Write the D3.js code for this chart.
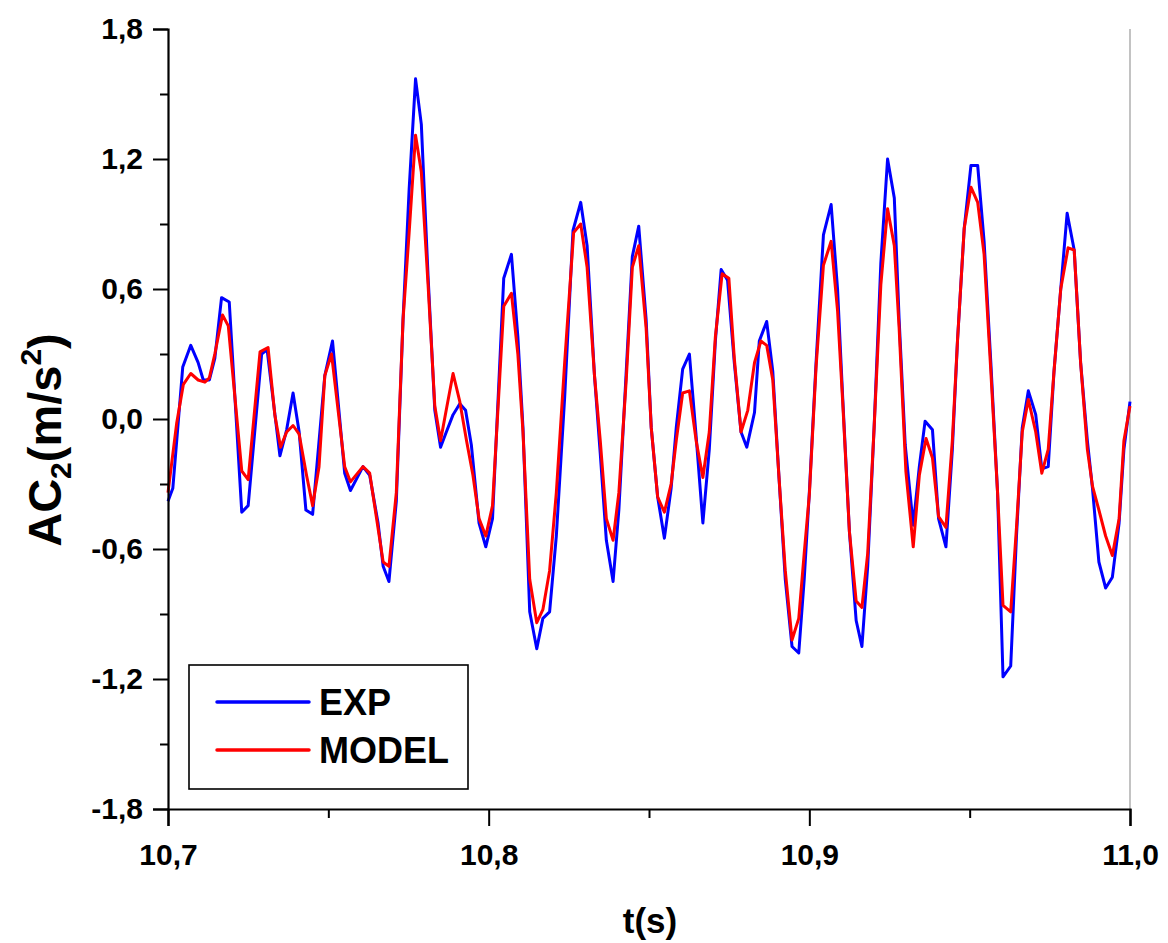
<!DOCTYPE html>
<html>
<head>
<meta charset="utf-8">
<script src="https://cdn.jsdelivr.net/npm/d3@7"></script>
<style>
  html, body { margin: 0; padding: 0; background: #fff; }
  svg { display: block; }
  text { font-family: "Liberation Sans", Arial, sans-serif; font-weight: bold; fill: #000; }
</style>
</head>
<body>
<svg id="chart" width="1168" height="943"></svg>
<script>
// ---------- data ----------
const expT = [10.7000,10.7015,10.7046,10.7071,10.7094,10.7110,10.7129,10.7146,10.7167,10.7191,10.7230,10.7250,10.7292,10.7309,10.7349,10.7370,10.7390,10.7409,10.7430,10.7451,10.7489,10.7513,10.7551,10.7569,10.7608,10.7629,10.7655,10.7671,10.7689,10.7712,10.7733,10.7752,10.7772,10.7790,10.7811,10.7832,10.7850,10.7868,10.7889,10.7910,10.7928,10.7946,10.7970,10.7991,10.8012,10.8047,10.8071,10.8091,10.8107,10.8128,10.8150,10.8169,10.8190,10.8211,10.8237,10.8263,10.8287,10.8307,10.8330,10.8348,10.8367,10.8388,10.8406,10.8429,10.8448,10.8468,10.8491,10.8507,10.8527,10.8548,10.8569,10.8585,10.8605,10.8626,10.8647,10.8668,10.8688,10.8707,10.8725,10.8745,10.8766,10.8787,10.8805,10.8829,10.8844,10.8867,10.8886,10.8905,10.8925,10.8946,10.8967,10.8984,10.9000,10.9021,10.9044,10.9068,10.9088,10.9104,10.9125,10.9146,10.9164,10.9182,10.9202,10.9223,10.9244,10.9265,10.9280,10.9299,10.9324,10.9343,10.9361,10.9384,10.9403,10.9426,10.9446,10.9462,10.9483,10.9504,10.9525,10.9545,10.9566,10.9587,10.9604,10.9628,10.9646,10.9664,10.9683,10.9706,10.9725,10.9745,10.9763,10.9784,10.9804,10.9826,10.9846,10.9867,10.9883,10.9903,10.9924,10.9945,10.9966,10.9981,11.0000];
const expV = [-0.38,-0.32,0.24,0.34,0.26,0.18,0.18,0.28,0.56,0.54,-0.43,-0.40,0.30,0.32,-0.17,-0.05,0.12,-0.06,-0.42,-0.44,0.20,0.36,-0.25,-0.33,-0.22,-0.26,-0.48,-0.68,-0.75,-0.38,0.46,1.06,1.57,1.36,0.66,0.04,-0.13,-0.06,0.02,0.07,0.04,-0.12,-0.48,-0.59,-0.46,0.65,0.76,0.38,-0.04,-0.89,-1.06,-0.92,-0.89,-0.54,0.10,0.87,1.00,0.80,0.20,-0.16,-0.56,-0.75,-0.42,0.22,0.75,0.89,0.46,-0.04,-0.36,-0.55,-0.32,-0.04,0.23,0.30,-0.08,-0.48,-0.14,0.36,0.69,0.64,0.26,-0.06,-0.13,0.03,0.36,0.45,0.22,-0.26,-0.74,-1.05,-1.08,-0.74,-0.34,0.26,0.85,0.99,0.60,0.10,-0.52,-0.93,-1.05,-0.68,-0.04,0.72,1.20,1.02,0.46,-0.12,-0.49,-0.22,-0.01,-0.05,-0.46,-0.59,-0.14,0.36,0.88,1.17,1.17,0.82,0.26,-0.34,-1.19,-1.14,-0.54,-0.04,0.13,0.02,-0.23,-0.22,0.22,0.60,0.95,0.78,0.26,-0.10,-0.32,-0.66,-0.78,-0.73,-0.48,-0.14,0.08];

const modelT = [10.7000,10.7027,10.7048,10.7071,10.7094,10.7115,10.7129,10.7146,10.7170,10.7188,10.7230,10.7250,10.7287,10.7312,10.7333,10.7351,10.7370,10.7390,10.7409,10.7432,10.7451,10.7471,10.7489,10.7510,10.7551,10.7569,10.7608,10.7629,10.7671,10.7689,10.7712,10.7733,10.7752,10.7772,10.7790,10.7811,10.7832,10.7850,10.7870,10.7889,10.7910,10.7931,10.7951,10.7970,10.7991,10.8012,10.8047,10.8071,10.8091,10.8107,10.8128,10.8150,10.8169,10.8190,10.8211,10.8237,10.8265,10.8287,10.8307,10.8330,10.8348,10.8367,10.8388,10.8406,10.8429,10.8448,10.8468,10.8491,10.8507,10.8527,10.8548,10.8569,10.8585,10.8605,10.8626,10.8647,10.8668,10.8688,10.8707,10.8728,10.8749,10.8766,10.8787,10.8808,10.8829,10.8849,10.8867,10.8886,10.8905,10.8925,10.8946,10.8967,10.8984,10.9000,10.9021,10.9044,10.9068,10.9088,10.9104,10.9125,10.9146,10.9164,10.9182,10.9202,10.9223,10.9244,10.9265,10.9280,10.9301,10.9324,10.9343,10.9364,10.9384,10.9403,10.9426,10.9446,10.9462,10.9483,10.9504,10.9525,10.9545,10.9566,10.9587,10.9604,10.9628,10.9646,10.9664,10.9683,10.9706,10.9725,10.9745,10.9763,10.9784,10.9807,10.9826,10.9846,10.9867,10.9883,10.9903,10.9924,10.9945,10.9966,10.9981,11.0000];
const modelV = [-0.34,-0.02,0.16,0.21,0.18,0.17,0.19,0.30,0.48,0.43,-0.24,-0.28,0.31,0.33,0.02,-0.13,-0.06,-0.03,-0.07,-0.26,-0.40,-0.22,0.20,0.30,-0.22,-0.29,-0.22,-0.25,-0.66,-0.68,-0.34,0.46,0.86,1.31,1.14,0.62,0.06,-0.10,0.06,0.21,0.08,-0.10,-0.26,-0.46,-0.54,-0.40,0.52,0.58,0.30,-0.06,-0.74,-0.94,-0.88,-0.70,-0.34,0.26,0.86,0.90,0.70,0.20,-0.10,-0.46,-0.56,-0.34,0.18,0.70,0.80,0.42,-0.04,-0.36,-0.43,-0.30,-0.10,0.12,0.13,-0.10,-0.27,-0.06,0.38,0.67,0.65,0.28,-0.06,0.04,0.26,0.36,0.34,0.18,-0.26,-0.70,-1.02,-0.92,-0.62,-0.35,0.24,0.71,0.82,0.50,0.08,-0.52,-0.84,-0.87,-0.62,-0.04,0.62,0.97,0.80,0.42,-0.24,-0.59,-0.26,-0.09,-0.18,-0.45,-0.50,-0.10,0.36,0.88,1.07,1.00,0.76,0.22,-0.34,-0.86,-0.89,-0.50,-0.06,0.09,-0.06,-0.25,-0.14,0.22,0.60,0.79,0.78,0.26,-0.14,-0.31,-0.42,-0.54,-0.63,-0.46,-0.10,0.06];

const xTicksMajor = [10.7, 10.8, 10.9, 11.0];
const xTicksMinor = [10.75, 10.85, 10.95];
const yTicksMajor = [-1.8, -1.2, -0.6, 0.0, 0.6, 1.2, 1.8];
const yTicksMinor = [-1.5, -0.9, -0.3, 0.3, 0.9, 1.5];
const seriesNames = ["EXP", "MODEL"];
const seriesColors = ["#0000ff", "#ff0000"];

// ---------- layout ----------
const svg = d3.select("#chart");
const L = 168, R = 1130, T = 29, B = 809;

const x = d3.scaleLinear().domain([10.7, 11.0]).range([L, R]);
const y = d3.scaleLinear().domain([-1.8, 1.8]).range([B, T]);
const fmt = v => d3.format(".1f")(v).replace(".", ",").replace("−", "-");

// right frame line (thin grey)
svg.append("line").attr("x1", R).attr("x2", R).attr("y1", T).attr("y2", B)
  .attr("stroke", "#9a9a9a").attr("stroke-width", 1.2);

// curves
const line = d3.line().x(d => x(d[0])).y(d => y(d[1]));
const expData = expT.map((t, i) => [t, expV[i]]);
const modelData = modelT.map((t, i) => [t, modelV[i]]);
const plot = svg.append("g");
plot.append("path").datum(expData).attr("d", line)
  .attr("fill", "none").attr("stroke", seriesColors[0]).attr("stroke-width", 3).attr("stroke-linejoin", "round");
plot.append("path").datum(modelData).attr("d", line)
  .attr("fill", "none").attr("stroke", seriesColors[1]).attr("stroke-width", 3).attr("stroke-linejoin", "round");

// y axis
const yAxis = d3.axisLeft(y).tickValues(yTicksMajor).tickSize(15).tickPadding(10).tickFormat(fmt);
const gy = svg.append("g").attr("transform", `translate(${L},0)`).call(yAxis);
gy.select(".domain").attr("stroke", "#000").attr("stroke-width", 2.2);
gy.selectAll(".tick line").attr("stroke", "#000").attr("stroke-width", 2);
gy.selectAll(".tick text").attr("font-size", 30).attr("font-family", "Liberation Sans, Arial, sans-serif").attr("font-weight", "bold");
const yMinor = d3.axisLeft(y).tickValues(yTicksMinor).tickSize(8).tickFormat("");
const gym = svg.append("g").attr("transform", `translate(${L},0)`).call(yMinor);
gym.select(".domain").remove();
gym.selectAll(".tick line").attr("stroke", "#000").attr("stroke-width", 2);

// x axis
const xAxis = d3.axisBottom(x).tickValues(xTicksMajor).tickSize(17).tickPadding(18).tickFormat(fmt);
const gx = svg.append("g").attr("transform", `translate(0,${B})`).call(xAxis);
gx.select(".domain").attr("stroke", "#000").attr("stroke-width", 2.2);
gx.selectAll(".tick line").attr("stroke", "#000").attr("stroke-width", 2);
gx.selectAll(".tick text").attr("font-size", 30).attr("font-family", "Liberation Sans, Arial, sans-serif").attr("font-weight", "bold");
const xMinor = d3.axisBottom(x).tickValues(xTicksMinor).tickSize(9).tickFormat("");
const gxm = svg.append("g").attr("transform", `translate(0,${B})`).call(xMinor);
gxm.select(".domain").remove();
gxm.selectAll(".tick line").attr("stroke", "#000").attr("stroke-width", 2);

// axis titles
svg.append("text").attr("x", 650).attr("y", 933).attr("text-anchor", "middle")
  .attr("font-size", 35).text("t(s)");

const yt = svg.append("text").attr("transform", "translate(61,440) rotate(-90)")
  .attr("text-anchor", "middle").attr("font-size", 47);
yt.append("tspan").text("AC");
yt.append("tspan").attr("font-size", 30).attr("dy", 10).text("2");
yt.append("tspan").attr("dy", -10).text("(m/s");
yt.append("tspan").attr("font-size", 30).attr("dy", -20).text("2");
yt.append("tspan").attr("dy", 20).text(")");

// legend
const lg = svg.append("g");
lg.append("rect").attr("x", 189).attr("y", 665).attr("width", 279).attr("height", 124)
  .attr("fill", "#fff").attr("stroke", "#000").attr("stroke-width", 1.6);
seriesNames.forEach((name, i) => {
  const ly = 702 + i * 48;
  lg.append("line").attr("x1", 217).attr("x2", 309).attr("y1", ly).attr("y2", ly)
    .attr("stroke", seriesColors[i]).attr("stroke-width", 3.5).attr("stroke-linecap", "round");
  lg.append("text").attr("x", 319).attr("y", ly + 13).attr("font-size", 36).text(name);
});
</script>
</body>
</html>
